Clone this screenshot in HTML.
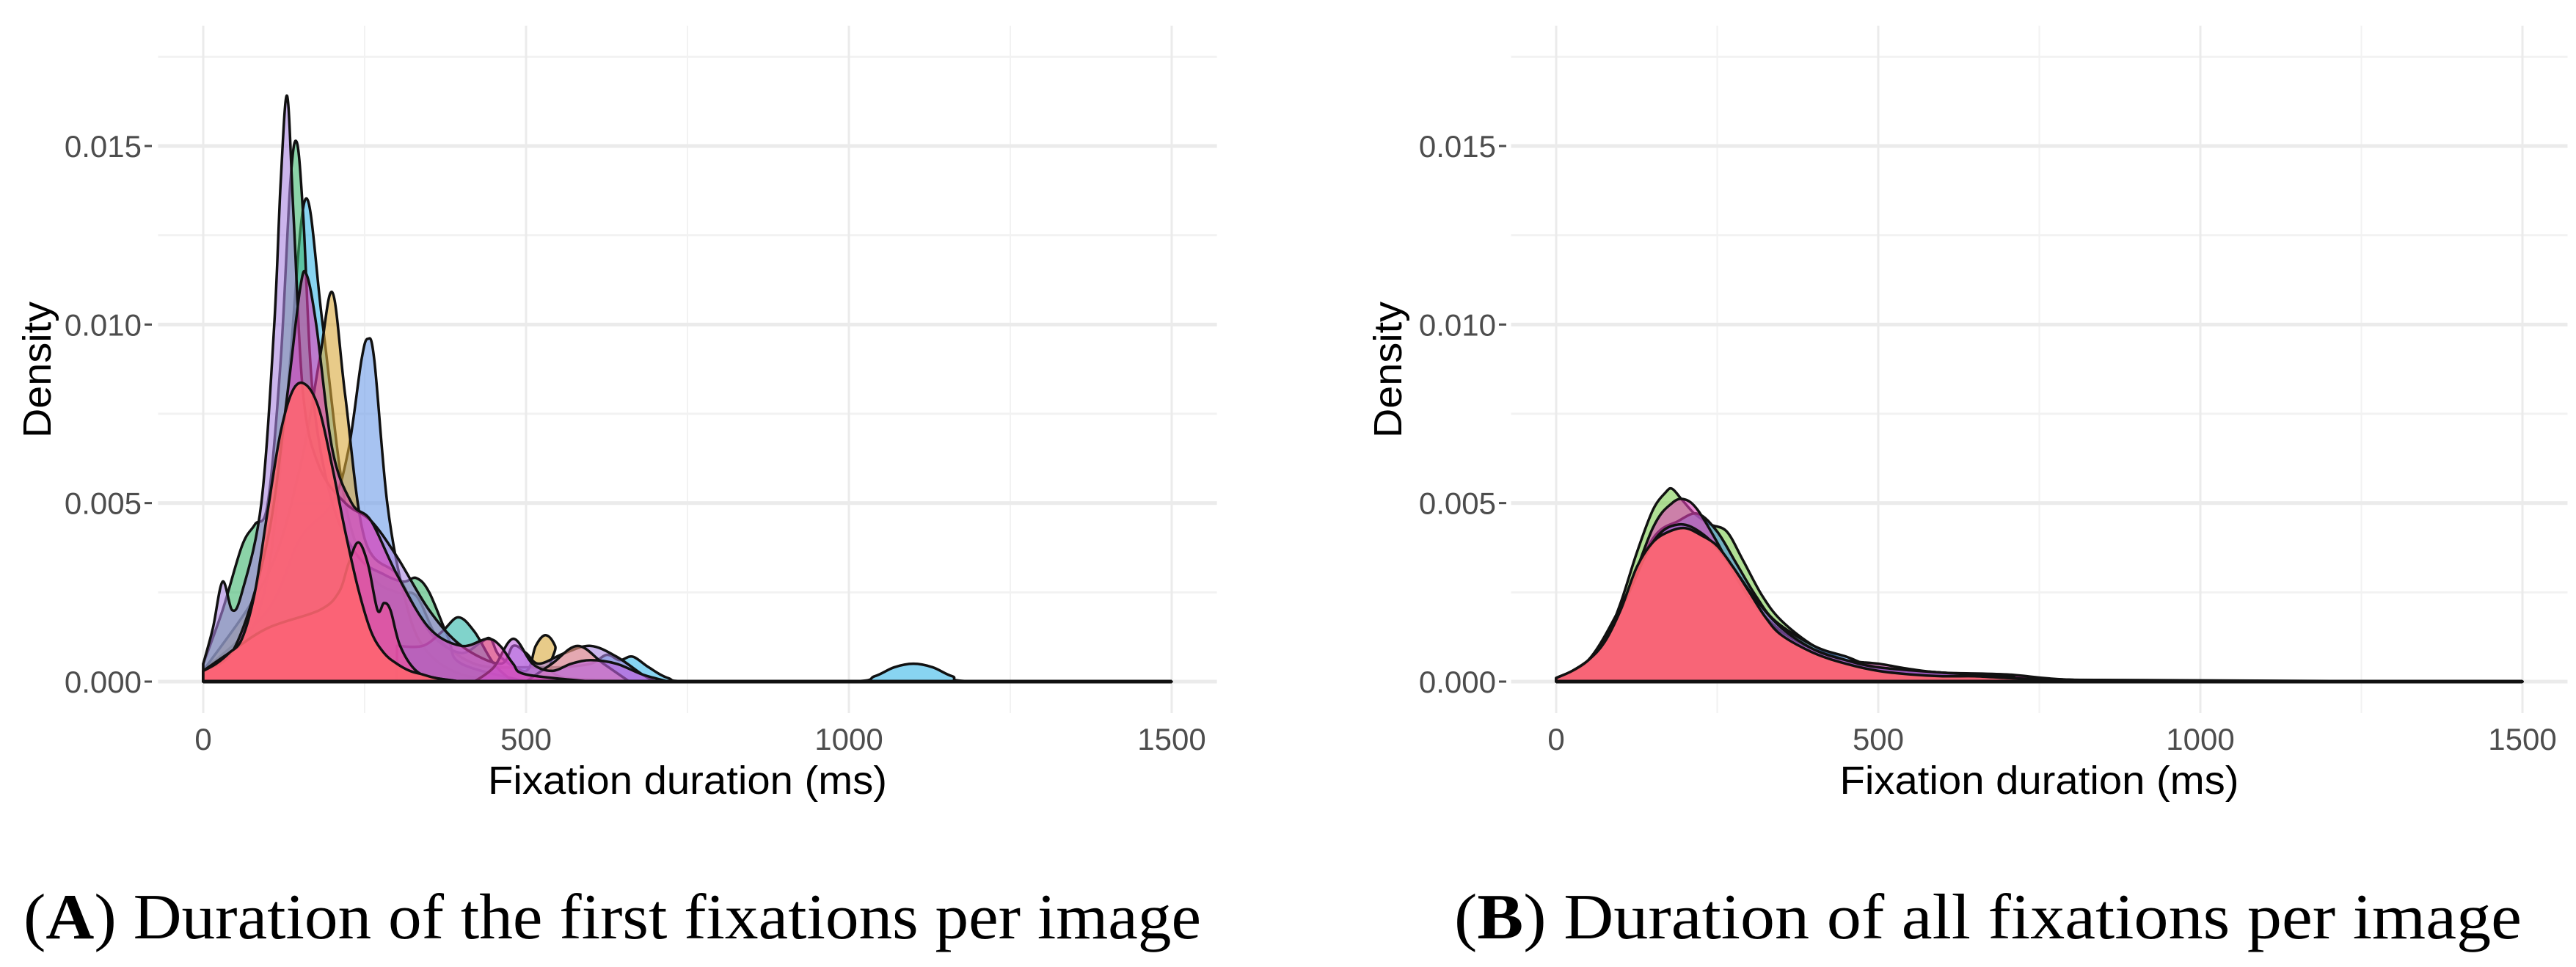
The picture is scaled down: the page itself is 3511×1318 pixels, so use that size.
<!DOCTYPE html>
<html><head><meta charset="utf-8"><style>
html,body{margin:0;padding:0;background:#fff;}
svg{display:block;}
text{font-family:"Liberation Sans",sans-serif;}
.cap{font-family:"Liberation Serif",serif;}
</style></head><body>
<svg id="chart" width="3511" height="1318" viewBox="0 0 3511 1318" xmlns="http://www.w3.org/2000/svg">
<g id="panelA"></g>
<g id="panelB"></g>
<text class="cap" x="32" y="1279" font-size="88" textLength="1605" lengthAdjust="spacingAndGlyphs">(<tspan font-weight="bold">A</tspan>) Duration of the first fixations per image</text>
<text class="cap" x="1982" y="1279" font-size="88" textLength="1455" lengthAdjust="spacingAndGlyphs">(<tspan font-weight="bold">B</tspan>) Duration of all fixations per image</text>
</svg>
<script>
// tick values
const xTicks = [0, 500, 1000, 1500];
const xMinor = [250, 750, 1250];
const yTicks = [0, 0.005, 0.010, 0.015];
const yTickLabels = ["0.000", "0.005", "0.010", "0.015"];
const yMinor = [0.0025, 0.0075, 0.0125, 0.0175];

// Panel A densities (x in ms, y in units of 0.001)
const aCyanX = [0,60,100,130,158,185,220,260,300,330,360,390,420,450,500,550,600,625,645,665,690,720,760,1000,1040,1070,1100,1130,1160,1200,1500];
const aCyanY = [0.3,1,3,8,13.5,10,5,3,2.5,2.4,1.3,0.8,0.5,0.4,0.4,0.4,0.5,0.75,0.6,0.7,0.4,0.1,0,0,0.15,0.4,0.5,0.4,0.15,0,0];
const aBlueX = [0,100,150,200,225,245,255,265,285,310,340,400,500];
const aBlueY = [0.3,2,4,5,6.5,9,9.6,9,5,2.5,1,0.2,0];
const aTanX = [0,100,150,180,200,220,250,300,330,360,400,430,445,460,500,515,530,545,560,800];
const aTanY = [0.3,3,6,9,10.9,8,4,3,2,1.2,0.8,1.1,1.2,0.7,0.3,1,1.3,1,0.1,0];
const aGreenX = [0,30,60,80,100,120,135,145,155,170,200,240,280,310,330,350,380,400,500];
const aGreenY = [0.5,2,3.8,4.4,5,9,14,15.1,13,8,5,3.5,3,2.8,2.9,2.5,1.2,0.5,0];
const aTealX = [300,340,370,395,420,450,480];
const aTealY = [1,1,1.4,1.8,1.4,0.5,0];
const aVioletX = [0,15,30,45,60,90,110,120,130,140,155,180,220,260,300,350,400,460,480,500,520,560,600,640,680,700];
const aVioletY = [0.5,1.5,2.8,2,2.5,5,10,14,16.4,13,8,6,5,4.5,3.5,2,1,0.5,1,0.8,0.5,0.8,1,0.7,0.2,0];
const aSalmonX = [500,540,580,620,660];
const aSalmonY = [0,0.5,1.0,0.5,0];
const aOrchidX = [420,450,480,510,540,570,600,640,680,720];
const aOrchidY = [0,0.4,1.2,0.5,0.3,0.5,0.6,0.5,0.2,0];
const aMagentaX = [0,50,100,130,150,160,175,200,230,260,300,350,400,440,460,480,500,600];
const aMagentaY = [0.3,1,4,8,11,11.4,10,6.5,5,4.5,3,1.5,1,1.2,1,0.5,0.2,0];
const aPinkX = [0,40,100,180,210,225,240,255,270,280,290,305,330,360,400];
const aPinkY = [0.3,0.8,1.5,2,2.5,3.3,3.9,3.3,2,2.2,2,1,0.3,0.1,0];
const aRedX = [0,20,40,60,80,100,120,140,160,180,200,220,240,260,280,300,320,340,360,400];
const aRedY = [0.3,0.5,0.8,1.2,2.5,4.8,7.0,8.2,8.3,7.6,6.0,4.2,2.6,1.4,0.8,0.5,0.3,0.2,0.1,0];

// Panel B densities
const bGreenX = [0,25,50,75,100,125,150,170,180,195,215,240,265,290,320,350,400,450,500,600,700,800,1000,1500];
const bGreenY = [0.1,0.3,0.6,1.1,2.2,3.6,4.8,5.3,5.4,5.1,4.7,4.4,4.2,3.4,2.4,1.7,1.0,0.6,0.35,0.2,0.15,0.05,0.02,0];
const bBlueX = [0,50,100,150,190,220,250,280,310,340,400,450,500,600,700,800,1000,1500];
const bBlueY = [0.1,0.6,2.1,4.0,4.5,4.7,4.2,3.3,2.4,1.7,1.0,0.7,0.4,0.25,0.15,0.05,0.02,0];
const bMagentaX = [0,50,100,150,180,200,220,250,280,310,350,400,450,500,550,600,700,800,1000,1500];
const bMagentaY = [0.1,0.6,2.0,4.3,5.0,5.1,4.8,3.9,2.9,2.1,1.4,0.9,0.6,0.5,0.35,0.25,0.2,0.05,0.02,0];
const bPurpleX = [0,50,100,150,190,230,270,310,350,400,450,500,600,700,800,1500];
const bPurpleY = [0.1,0.6,2.0,3.9,4.4,4.1,3.3,2.3,1.5,0.9,0.6,0.4,0.25,0.15,0.05,0];
const bRedX = [0,25,50,75,100,125,150,175,200,225,250,275,300,325,350,400,450,500,550,600,650,700,750,800,900,1000,1500];
const bRedY = [0.1,0.3,0.6,1.1,2,3.2,3.9,4.2,4.3,4.1,3.8,3.2,2.5,1.8,1.3,0.8,0.5,0.3,0.2,0.15,0.15,0.1,0.07,0.05,0.03,0.02,0];

const seriesA = [
  {name:"cyan", color:"#39B8E8", op:0.6, xs:aCyanX, ys:aCyanY},
  {name:"blue", color:"#6C9BE8", op:0.6, xs:aBlueX, ys:aBlueY},
  {name:"tan", color:"#D9A93A", op:0.6, xs:aTanX, ys:aTanY},
  {name:"green", color:"#3DB56E", op:0.6, xs:aGreenX, ys:aGreenY},
  {name:"teal", color:"#2BB5A8", op:0.6, xs:aTealX, ys:aTealY},
  {name:"violet", color:"#A884E0", op:0.6, xs:aVioletX, ys:aVioletY},
  {name:"salmon", color:"#F5A08A", op:0.6, xs:aSalmonX, ys:aSalmonY},
  {name:"orchid", color:"#C060E0", op:0.6, xs:aOrchidX, ys:aOrchidY},
  {name:"magenta", color:"#E040B8", op:0.6, xs:aMagentaX, ys:aMagentaY},
  {name:"pink", color:"#F0509A", op:0.6, xs:aPinkX, ys:aPinkY},
  {name:"red", color:"#FF6570", op:0.88, xs:aRedX, ys:aRedY}
];
const seriesB = [
  {name:"green", color:"#7CCB4E", op:0.6, xs:bGreenX, ys:bGreenY},
  {name:"blue", color:"#4A8FE0", op:0.6, xs:bBlueX, ys:bBlueY},
  {name:"magenta", color:"#E040B8", op:0.6, xs:bMagentaX, ys:bMagentaY},
  {name:"purple", color:"#A060D0", op:0.6, xs:bPurpleX, ys:bPurpleY},
  {name:"red", color:"#FF6570", op:0.92, xs:bRedX, ys:bRedY}
];

const NS = "http://www.w3.org/2000/svg";
function mk(parent, tag, attrs){
  const el = document.createElementNS(NS, tag);
  for (const k in attrs) el.setAttribute(k, attrs[k]);
  parent.appendChild(el);
  return el;
}

function drawPanel(g, x0px, x1500px, series, ytx, densX, key){
  const X = v => x0px + (x1500px - x0px) * v / 1500;
  const Y = v => 929 - (929 - 199) * v / 0.015;
  const top = 35, bottom = 972;
  const left = X(-70), right = X(1570);
  xMinor.forEach(v => {
    const l = mk(g, "line", {x1:X(v), x2:X(v), y1:top, y2:bottom, stroke:"#F2F2F2", "stroke-width":2});
    
    
  });
  yMinor.forEach(v => {
    const l = mk(g, "line", {x1:left, x2:right, y1:Y(v), y2:Y(v), stroke:"#F2F2F2", "stroke-width":3});
    
    
  });
  xTicks.forEach(v => {
    const l = mk(g, "line", {x1:X(v), x2:X(v), y1:top, y2:bottom, stroke:"#EBEBEB", "stroke-width":3});
    
    
    const t = mk(g, "text", {x:X(v), y:1022, "font-size":42, fill:"#4D4D4D", "text-anchor":"middle"});
    t.textContent = String(v);
    
    
  });
  yTicks.forEach((v, i) => {
    const l = mk(g, "line", {x1:left, x2:right, y1:Y(v), y2:Y(v), stroke:"#EBEBEB", "stroke-width":5});
    
    
    const tk = mk(g, "line", {x1:ytx+4, x2:ytx+14, y1:Y(v), y2:Y(v), stroke:"#4D4D4D", "stroke-width":3});
    
    
    const t = mk(g, "text", {x:ytx, y:Y(v)+15, "font-size":42, fill:"#4D4D4D", "text-anchor":"end"});
    t.textContent = yTickLabels[i];
    
    
  });
  series.forEach(s => {
    const pts = s.xs.map((x, i) => [X(x), Y(s.ys[i] / 1000)]);
    let d = "M" + X(s.xs[0]) + "," + Y(0) + " L" + pts[0][0] + "," + pts[0][1];
    for (let i = 0; i < pts.length - 1; i++){
      const p0 = pts[Math.max(0, i-1)], p1 = pts[i], p2 = pts[i+1], p3 = pts[Math.min(pts.length-1, i+2)];
      const c1x = p1[0] + (p2[0]-p0[0])/6, c1y = Math.min(Y(0), p1[1] + (p2[1]-p0[1])/6);
      const c2x = p2[0] - (p3[0]-p1[0])/6, c2y = Math.min(Y(0), p2[1] - (p3[1]-p1[1])/6);
      d += " C" + c1x + "," + c1y + " " + c2x + "," + c2y + " " + p2[0] + "," + p2[1];
    }
    d += " L" + X(s.xs[s.xs.length-1]) + "," + Y(0) + " Z";
    const p = mk(g, "path", {d:d, fill:s.color, "fill-opacity":s.op, stroke:"#111", "stroke-width":3.5, "stroke-linejoin":"round"});
    
    
  });
  const base = mk(g, "line", {x1:X(0), x2:X(1500), y1:Y(0), y2:Y(0), stroke:"#111", "stroke-width":5});
  
  
  const xt = mk(g, "text", {x:(X(0)+X(1500))/2, y:1082, "font-size":54, fill:"#000", "text-anchor":"middle", textLength:544, lengthAdjust:"spacingAndGlyphs"});
  xt.textContent = "Fixation duration (ms)";
  
  
  const yt = mk(g, "text", {x:0, y:0, "font-size":54, fill:"#000", "text-anchor":"middle", textLength:186, lengthAdjust:"spacingAndGlyphs", transform:"translate(" + (densX+18) + ",504) rotate(-90)"});
  yt.textContent = "Density";
  
  
}

drawPanel(document.getElementById("panelA"), 277, 1597, seriesA, 193, 51, "a");
drawPanel(document.getElementById("panelB"), 2121, 3438, seriesB, 2039, 1892, "b");
</script>
</body></html>
